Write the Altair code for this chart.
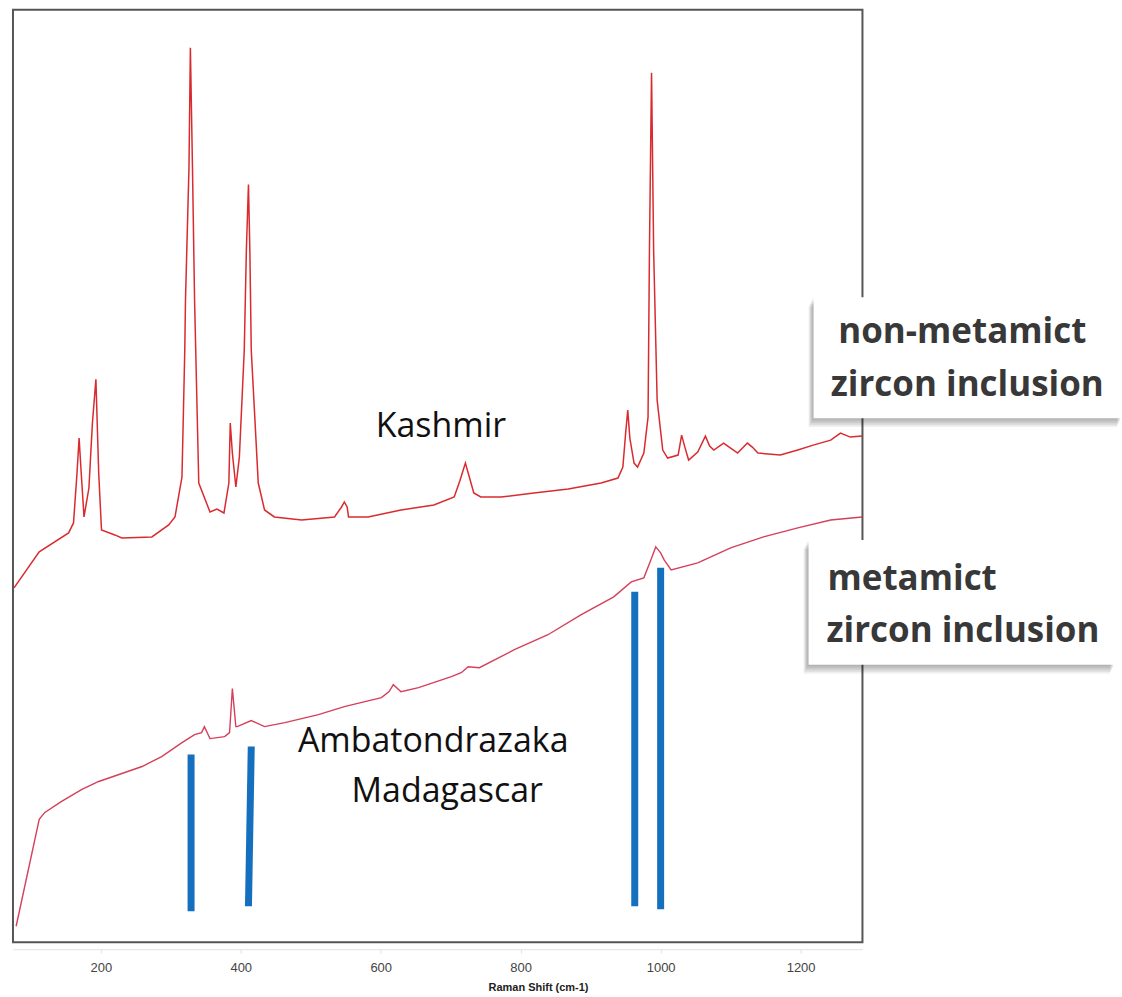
import altair as alt
import pandas as pd

# ---------------- data ----------------
kashmir_shift = [76, 112, 154, 161, 166, 169, 172, 176, 183, 188, 193, 197, 201, 220, 230, 273,
                 297, 306, 316, 320, 321, 326, 328, 331, 334, 340, 356, 366, 376, 383, 385,
                 388, 393, 398, 405, 408, 411, 413, 415, 425, 434, 448, 487, 534, 544, 548,
                 552, 554, 582, 629, 676, 705, 713, 721, 727, 733, 743, 772, 819, 868, 915,
                 939, 946, 950, 953, 956, 962, 967, 976, 982, 984, 987, 990, 995, 1003, 1010,
                 1025, 1030, 1035, 1040, 1053, 1064, 1070, 1076, 1090, 1100, 1110, 1124, 1131,
                 1139, 1171, 1196, 1218, 1243, 1257, 1271, 1288]
kashmir_intensity = [355, 391, 410, 420, 470, 505, 470, 426, 455, 520, 564, 470, 413, 408, 405, 406,
                     418, 426, 466, 593, 643, 776, 896, 776, 643, 460, 431, 434, 430, 460, 520,
                     490, 456, 486, 593, 693, 759, 693, 593, 460, 433, 426, 423, 426, 436, 441,
                     436, 426, 426, 433, 438, 446, 462, 480, 465, 450, 446, 446, 450, 454, 460,
                     465, 476, 510, 533, 505, 480, 476, 490, 526, 693, 871, 693, 543, 493, 485,
                     488, 508, 495, 483, 491, 507, 497, 493, 500, 495, 490, 500, 496,
                     490, 488, 493, 498, 503, 510, 506, 507]

madagascar_shift = [79, 112, 120, 144, 173, 197, 226, 259, 287, 316, 334, 344, 348, 356, 377,
                    384, 388, 393, 395, 415, 434, 463, 511, 548, 601, 612, 618, 629, 654,
                    701, 715, 725, 741, 791, 839, 886, 933, 958, 976, 986, 993, 1000, 1005,
                    1015, 1053, 1100, 1147, 1196, 1243, 1288]
madagascar_intensity = [16, 123, 130, 141, 153, 161, 168, 176, 186, 200, 208, 210, 216, 204, 206,
                        210, 254, 216, 216, 222, 216, 220, 228, 236, 245, 251, 258, 251, 255,
                        266, 270, 276, 275, 293, 308, 328, 346, 361, 365, 383, 396, 390, 383,
                        373, 380, 395, 406, 415, 423, 426]

# zircon reference markers (blue bars)
marker_shift_top = [329, 415, 963, 1000]
marker_shift_bottom = [329, 411, 963, 1000]
marker_top = [188, 196, 351, 375]
marker_bottom = [31, 36, 36, 33]

tick_values = [200, 400, 600, 800, 1000, 1200]

sample_labels = ["Kashmir", "Ambatondrazaka", "Madagascar"]
sample_label_shift = [686, 675, 695]
sample_label_intensity = [506, 191, 140]

# ---------------- tables ----------------
kashmir = pd.DataFrame({"shift": kashmir_shift, "intensity": kashmir_intensity})
madagascar = pd.DataFrame({"shift": madagascar_shift, "intensity": madagascar_intensity})
markers = pd.DataFrame({"x": marker_shift_top, "x2": marker_shift_bottom,
                        "y": marker_top, "y2": marker_bottom})
labels = pd.DataFrame({"label": sample_labels, "shift": sample_label_shift,
                       "intensity": sample_label_intensity})
one = pd.DataFrame({"a": [0]})

W, H = 851, 934
xscale = alt.Scale(domain=[74.5, 1288.4], nice=False, zero=False)
yscale = alt.Scale(domain=[0, 934], nice=False, zero=False)

xaxis = alt.Axis(values=tick_values, format="d", grid=False, title="Raman Shift (cm-1)",
                 labelFont="Liberation Sans", labelFontSize=13, labelColor="#444444",
                 titleFont="Liberation Sans", titleFontSize=11, titleFontWeight="bold",
                 titleColor="#222222", titleX=526, titleY=41, titleBaseline="alphabetic",
                 titleAlign="center", domainColor="#e2e2e2", tickColor="#e2e2e2", tickSize=4,
                 offset=7, labelPadding=8)

x_enc = alt.X("shift:Q", scale=xscale, axis=xaxis)
y_enc = alt.Y("intensity:Q", scale=yscale, axis=None)

kash_line = alt.Chart(kashmir).mark_line(color="#d92b2f", strokeWidth=1.5).encode(
    x=x_enc, y=y_enc)
mad_line = alt.Chart(madagascar).mark_line(color="#d4405a", strokeWidth=1.4).encode(
    x=alt.X("shift:Q", scale=xscale), y=alt.Y("intensity:Q", scale=yscale))

bars = alt.Chart(markers).mark_rule(color="#1470be", strokeWidth=7).encode(
    x=alt.X("x:Q", scale=xscale), x2="x2:Q",
    y=alt.Y("y:Q", scale=yscale), y2="y2:Q")

sample_text = alt.Chart(labels).mark_text(font="Open Sans", fontSize=34, color="#111111",
                                          align="center", baseline="alphabetic").encode(
    x=alt.X("shift:Q", scale=xscale), y=alt.Y("intensity:Q", scale=yscale), text="label:N")

# ---------------- side annotation panels ----------------
def panel(x, y, x2, y2):
    layers = []
    for dx, dy, op in [(-1, 1, 0.06), (-2, 3, 0.07), (-3, 5, 0.08), (-4, 7, 0.08), (-5, 9, 0.06)]:
        layers.append(alt.Chart(one).mark_rect(color="#000000", opacity=op).encode(
            x=alt.value(x + dx), x2=alt.value(x2 + dx), y=alt.value(y + dy), y2=alt.value(y2 + dy)))
    layers.append(alt.Chart(one).mark_rect(color="#ffffff").encode(
        x=alt.value(x), x2=alt.value(x2), y=alt.value(y), y2=alt.value(y2)))
    return layers

def side_text(txt, x, y, align):
    return alt.Chart(one).mark_text(text=txt, font="Open Sans", fontSize=35, fontWeight="bold",
                                    color="#383838", align=align, baseline="alphabetic").encode(
        x=alt.value(x), y=alt.value(y))

side = []
side += panel(802, 288, 1111, 409)
side += [side_text("non-metamict", 951, 334, "center"),
         side_text("zircon inclusion", 956, 387, "center")]
side += panel(797, 531, 1104, 656)
side += [side_text("metamict", 816, 581, "left"),
         side_text("zircon inclusion", 815, 633, "left")]

chart = alt.layer(kash_line, mad_line, bars, sample_text, *side).properties(
    width=W, height=H,
    padding={"left": 11, "top": 9, "right": 0, "bottom": 0},
    background="white",
).configure_view(stroke="#555555", strokeWidth=2)

chart.save("out.html", embed_options={"renderer": "svg", "actions": False})
